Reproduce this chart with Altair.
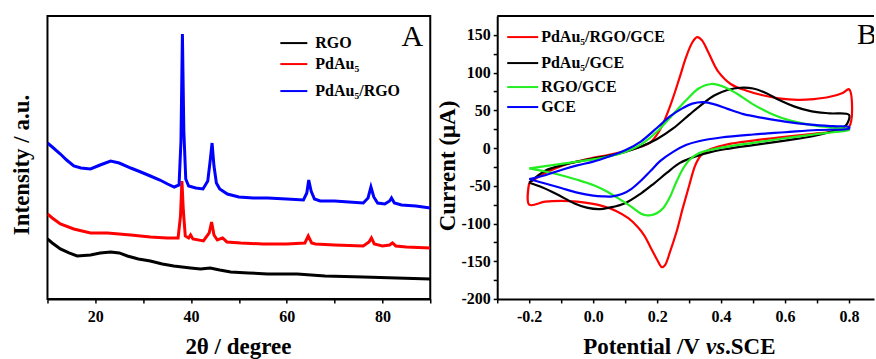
import altair as alt
import pandas as pd

# ---------------- Panel A : XRD patterns ----------------
xrd_names = ["RGO", "PdAu₅", "PdAu₅/RGO"]
xrd_colors = ["#000000", "#ff0000", "#0000ff"]

rgo_2theta = [10, 11, 12.7, 14.5, 16.2, 19, 21, 23.2, 25, 26.7, 29, 31.5, 34, 36.4, 39.9,
              42, 44, 46, 48.3, 52, 56, 62.2, 68, 76, 83, 90]
rgo_int = [60, 56, 50, 46, 43, 44, 46, 47, 46, 43, 40, 38, 35, 33, 31,
           30, 31, 29, 27, 26, 25, 25, 23, 22, 21, 20]

pdau_2theta = [10, 11, 12.7, 15.5, 19, 22.5, 27.4, 31.5, 35, 37.3, 37.8, 38.1, 38.4, 38.8,
               39.5, 39.9, 40.4, 42.6, 43.8, 44.3, 44.8, 45.5, 46.6, 47.5, 50.4, 55, 60,
               63.8, 64.5, 65.2, 66, 70, 76, 77.2, 77.7, 78.3, 80, 81.5, 82.1, 82.8, 85, 90]
pdau_int = [85, 81, 75, 70, 66, 66, 64, 62, 61, 61, 83, 118, 88, 63,
            61, 64, 60, 58, 66, 77, 64, 59, 61, 57, 56, 55, 55,
            56, 63, 56, 55, 54, 53, 57, 61, 55, 53, 54, 56, 53, 52, 51]

pdaurgo_2theta = [10, 11, 12.7, 14, 15.5, 17, 19, 21, 23.2, 25, 27.4, 29.5, 31.5, 33.5, 35.1,
                  36.5, 37.5, 37.9, 38.2, 38.5, 38.9, 39.5, 41, 42.5, 43.5, 44.0, 44.4, 44.8,
                  45.3, 46, 47.6, 50, 53, 56, 60, 63.5, 64.2, 64.6, 65.1, 65.8, 67, 70, 73,
                  76, 77.0, 77.6, 78.2, 79, 80.5, 81.5, 81.9, 82.5, 84, 87, 90]
pdaurgo_int = [156, 152, 145, 139, 133, 131, 130, 134, 138, 136, 131, 127, 123, 119, 115,
               112, 114, 158, 265, 168, 120, 113, 111, 110, 118, 138, 156, 133,
               116, 110, 105, 102, 101, 101, 100, 99, 106, 119, 108, 100, 98, 98, 97,
               96, 101, 112, 102, 96, 95, 98, 101, 96, 94, 93, 91]

# ---------------- Panel B : cyclic voltammograms ----------------
cv_names = ["PdAu₅/RGO/GCE", "PdAu₅/GCE", "RGO/GCE", "GCE"]
cv_colors = ["#ff0000", "#000000", "#22ee22", "#0000ff"]

red_E = [-0.2, -0.15, -0.1, -0.05, 0.0, 0.05, 0.1, 0.15, 0.18, 0.21, 0.24, 0.27, 0.29, 0.31,
         0.325, 0.34, 0.36, 0.39, 0.43, 0.48, 0.53, 0.58, 0.64, 0.69, 0.74, 0.78, 0.8,
         0.8, 0.75, 0.69, 0.6, 0.5, 0.42, 0.37, 0.34, 0.32, 0.3, 0.28, 0.26, 0.24, 0.225,
         0.215, 0.2, 0.18, 0.16, 0.14, 0.11, 0.07, 0.03, 0.0, -0.05, -0.1, -0.15, -0.2, -0.2]
red_I = [-46, -33, -24, -18, -13, -9, -4, 2, 8, 25, 55, 93, 120, 140,
         147, 143, 127, 102, 85, 76, 70, 66, 64, 65, 68, 73, 78,
         28, 22, 19, 15, 10, 5, -1, -8, -22, -50, -80, -112, -138, -155,
         -158, -148, -132, -116, -105, -93, -83, -77, -74, -71, -70, -71, -75, -46]

black_E = [-0.2, -0.15, -0.1, -0.05, 0.0, 0.05, 0.1, 0.15, 0.2, 0.25, 0.3, 0.34, 0.38, 0.42,
           0.46, 0.5, 0.54, 0.58, 0.63, 0.68, 0.74, 0.8,
           0.79, 0.76, 0.69, 0.6, 0.5, 0.42, 0.37, 0.32, 0.27, 0.23, 0.19, 0.15, 0.1, 0.05,
           0.02, -0.02, -0.06, -0.11, -0.16, -0.2]
black_I = [-46, -30, -23, -18, -14, -10, -5, 2, 12, 26, 44, 58, 70, 77,
           80, 79, 73, 64, 55, 49, 46, 44,
           30, 24, 16, 10, 4, -1, -5, -11, -20, -33, -47, -60, -73, -79,
           -81, -79, -73, -62, -52, -46]

green_E = [-0.2, -0.15, -0.1, -0.05, 0.0, 0.05, 0.1, 0.15, 0.2, 0.25, 0.29, 0.33, 0.37, 0.41,
           0.45, 0.5, 0.56, 0.62, 0.69, 0.75, 0.8,
           0.8, 0.75, 0.69, 0.6, 0.5, 0.42, 0.37, 0.33, 0.3, 0.28, 0.26, 0.24, 0.22, 0.2, 0.18,
           0.165, 0.15, 0.12, 0.08, 0.04, 0.0, -0.05, -0.1, -0.15, -0.2]
green_I = [-27, -24, -21, -18, -15, -11, -5, 5, 22, 45, 63, 79, 85, 81,
           72, 58, 45, 36, 30, 27, 25,
           24, 21, 18, 13, 7, 2, -2, -7, -16, -28, -45, -65, -79, -86, -89,
           -89, -87, -78, -67, -57, -49, -42, -36, -31, -27]

blue_E = [-0.2, -0.15, -0.1, -0.05, 0.0, 0.05, 0.1, 0.15, 0.2, 0.24, 0.28, 0.31, 0.345, 0.38,
          0.42, 0.47, 0.53, 0.6, 0.68, 0.75, 0.8,
          0.8, 0.7, 0.6, 0.5, 0.4, 0.33, 0.29, 0.25, 0.21, 0.18, 0.15, 0.12, 0.09, 0.06,
          0.03, 0.0, -0.05, -0.1, -0.15, -0.2]
blue_I = [-41, -36, -29, -23, -18, -11, -3, 9, 27, 42, 53, 59, 61, 58,
          52, 45, 40, 35, 31, 29, 28,
          26, 24, 21, 18, 14, 9, 4, -5, -17, -30, -43, -54, -61, -64,
          -64, -63, -59, -53, -47, -41]

# tick values / labels
xrd_ticks = [10, 20, 30, 40, 50, 60, 70, 80, 90]
cv_xticks = [-0.3, -0.2, -0.1, 0.0, 0.1, 0.2, 0.3, 0.4, 0.5, 0.6, 0.7, 0.8]
cv_yticks = [-200, -175, -150, -125, -100, -75, -50, -25, 0, 25, 50, 75, 100, 125, 150]

FONT = "Liberation Serif"

# ---------------- build tables ----------------
def table(series_list, xname, yname):
    rows = []
    for name, xs, ys in series_list:
        for i, (a, b) in enumerate(zip(xs, ys)):
            rows.append({"series": name, xname: a, yname: b, "order": i})
    return pd.DataFrame(rows)

xrd_df = table([(xrd_names[0], rgo_2theta, rgo_int),
                (xrd_names[1], pdau_2theta, pdau_int),
                (xrd_names[2], pdaurgo_2theta, pdaurgo_int)], "theta", "intensity")
cv_df = table([(cv_names[0], red_E, red_I),
               (cv_names[1], black_E, black_I),
               (cv_names[2], green_E, green_I),
               (cv_names[3], blue_E, blue_I)], "E", "I")


def text(txt, x, y, size, weight="bold", angle=None, align="left", baseline="middle",
         style="normal", clip=False):
    kw = dict(font=FONT, fontSize=size, fontWeight=weight, align=align, baseline=baseline,
              fontStyle=style, color="black", clip=clip)
    if angle is not None:
        kw["angle"] = angle
    return alt.Chart(pd.DataFrame({"t": [txt]})).mark_text(**kw).encode(
        x=alt.value(x), y=alt.value(y), text="t:N")


def legend_line(color, x1, x2, y):
    return alt.Chart(pd.DataFrame({"t": [0]})).mark_rule(color=color, strokeWidth=2).encode(
        x=alt.value(x1), x2=alt.value(x2), y=alt.value(y))


# ---------------- Panel A ----------------
WA, HA = 383, 283
xrd_lines = alt.Chart(xrd_df).mark_line(strokeWidth=3, clip=True).encode(
    x=alt.X("theta:Q", scale=alt.Scale(domain=[10, 90], nice=False, zero=False),
            axis=alt.Axis(values=xrd_ticks, title=None, grid=False, tickSize=4,
                          labelPadding=6,
                          labelExpr="datum.value % 20 == 0 ? datum.label : ''")),
    y=alt.Y("intensity:Q", scale=alt.Scale(domain=[0, 283], nice=False), axis=None),
    color=alt.Color("series:N", scale=alt.Scale(domain=xrd_names, range=xrd_colors),
                    legend=None),
    order="order:Q",
)

a_layers = [xrd_lines]
for i, (nm, col) in enumerate(zip(xrd_names, xrd_colors)):
    yy = [27, 48, 75][i]
    a_layers.append(legend_line(col, 233, 260, yy))
    a_layers.append(text(nm, 268, yy, 16))
a_layers.append(text("A", 365, 30, 30, weight="normal", align="center", baseline="alphabetic"))
a_layers.append(text("Intensity / a.u.", -25, 149, 23, angle=270, align="center"))
a_layers.append(text("2θ / degree", 191, 338, 23, align="center", baseline="alphabetic"))

panelA = alt.layer(*a_layers).properties(
    width=WA, height=HA, view=alt.ViewBackground(stroke="black", strokeWidth=2))

# ---------------- Panel B ----------------
WB, HB = 377, 283
cv_lines = alt.Chart(cv_df).mark_line(strokeWidth=2.2, interpolate="catmull-rom",
                                      clip=True).encode(
    x=alt.X("E:Q", scale=alt.Scale(domain=[-0.3, -0.3 + WB / 320], nice=False, zero=False),
            axis=alt.Axis(values=cv_xticks, title=None, grid=False, tickSize=4,
                          labelPadding=6,
                          labelExpr="abs(round(datum.value*10)) % 2 == 0 ? ((datum.value < 0 ? '-' : '') + format(abs(datum.value), '.1f')) : ''")),
    y=alt.Y("I:Q", scale=alt.Scale(domain=[-200, 175], nice=False, zero=False),
            axis=alt.Axis(values=cv_yticks, title=None, grid=False, tickSize=4,
                          labelPadding=3,
                          labelExpr="datum.value % 50 == 0 ? ((datum.value < 0 ? '-' : '') + abs(datum.value)) : ''")),
    color=alt.Color("series:N", scale=alt.Scale(domain=cv_names, range=cv_colors),
                    legend=None),
    detail="series:N",
    order="order:Q",
)

b_layers = [cv_lines,
            alt.Chart(pd.DataFrame({"t": [0]})).mark_rule(color="black", strokeWidth=2).encode(
                x=alt.value(0), x2=alt.value(WB), y=alt.value(0))]
for i, (nm, col) in enumerate(zip(cv_names, cv_colors)):
    yy = [21, 47, 71, 91][i]
    b_layers.append(legend_line(col, 10, 41, yy))
    b_layers.append(text(nm, 44, yy, 16))
b_layers.append(text("B", 360, 28, 30, weight="normal", baseline="alphabetic", clip=True))
b_layers.append(text("Current (μA)", -49, 150, 23, angle=270, align="center"))
b_layers.append(text("Potential /V", 86, 338, 23, baseline="alphabetic"))
b_layers.append(text("vs", 209, 338, 23, baseline="alphabetic", style="italic"))
b_layers.append(text(".SCE", 228, 338, 23, baseline="alphabetic"))

panelB = alt.layer(*b_layers).properties(
    width=WB, height=HB, view=alt.ViewBackground(stroke="transparent"))

chart = alt.hconcat(panelA, panelB, spacing=67, bounds="flush").resolve_scale(
    color="independent").properties(
    padding={"left": 10.5, "top": 14, "right": 0, "bottom": 0},
    background="white",
).configure_axis(
    labelFont=FONT, labelFontWeight="bold", labelFontSize=16, labelColor="black",
    tickColor="black", domainColor="black", domainWidth=2, tickWidth=1.5, grid=False,
)

chart.save("out.html", embed_options={"renderer": "svg", "actions": False})
